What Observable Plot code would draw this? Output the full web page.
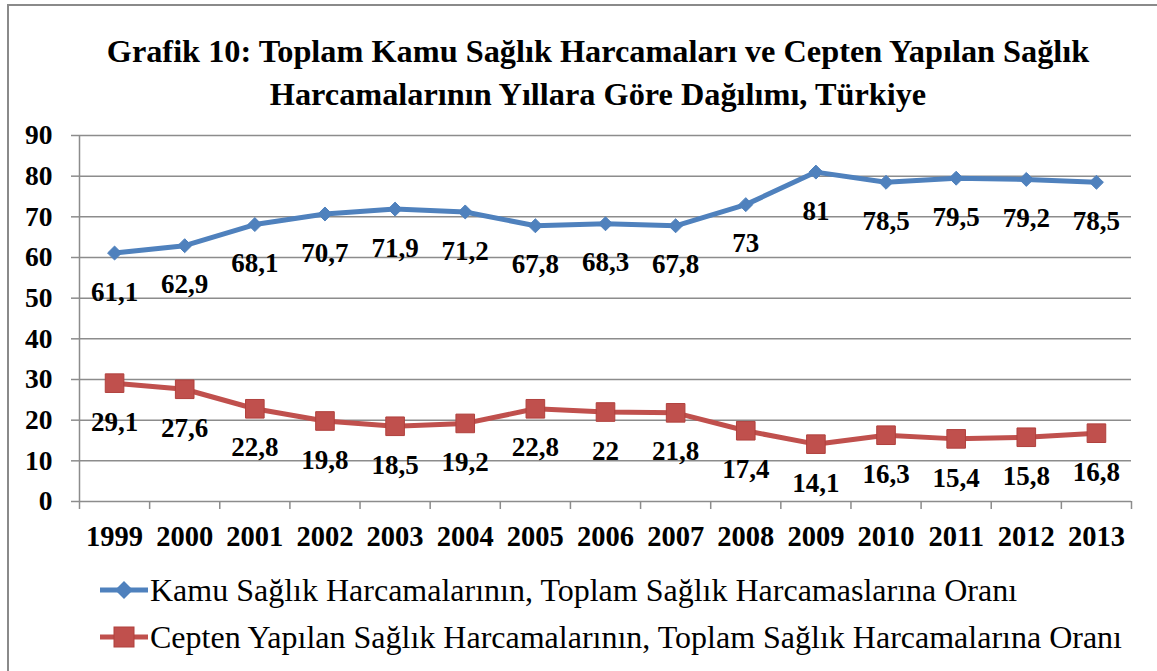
<!DOCTYPE html>
<html>
<head>
<meta charset="utf-8">
<script src="https://cdn.jsdelivr.net/npm/d3@7"></script>
<script src="https://cdn.jsdelivr.net/npm/@observablehq/plot@0.6"></script>
<style>
  html, body { margin: 0; padding: 0; background: #fff; }
  #page { position: relative; width: 1157px; height: 671px; overflow: hidden; font-family: "Liberation Serif", "Times New Roman", serif; }
  #frame { position: absolute; left: 7px; top: 4px; width: 1200px; height: 700px; border-left: 2px solid #8a8a8a; border-top: 2px solid #8a8a8a; }
  #title { position: absolute; left: 40px; width: 1116px; top: 30px; text-align: center; font-weight: bold; font-size: 32.3px; line-height: 43px; color: #000; font-family: "Liberation Serif", "Times New Roman", serif; }
  #chart { position: absolute; left: 0; top: 115px; }
  .leg { position: absolute; left: 100px; height: 40px; display: flex; align-items: center; font-size: 32px; color: #000; white-space: nowrap; font-family: "Liberation Serif", "Times New Roman", serif; }
  .leg svg { margin-right: 2px; flex: none; }
</style>
</head>
<body>
<div id="page">
  <div id="frame"></div>
  <div id="title">Grafik 10: Toplam Kamu Sağlık Harcamaları ve Cepten Yapılan Sağlık<br>Harcamalarının Yıllara Göre Dağılımı, Türkiye</div>
  <div id="chart"></div>
  <div class="leg" id="leg1" style="top:570px"></div>
  <div class="leg" id="leg2" style="top:617px"></div>
</div>
<script>
const years = [1999, 2000, 2001, 2002, 2003, 2004, 2005, 2006, 2007, 2008, 2009, 2010, 2011, 2012, 2013];
const kamu = [61.1, 62.9, 68.1, 70.7, 71.9, 71.2, 67.8, 68.3, 67.8, 73, 81, 78.5, 79.5, 79.2, 78.5];
const cepten = [29.1, 27.6, 22.8, 19.8, 18.5, 19.2, 22.8, 22, 21.8, 17.4, 14.1, 16.3, 15.4, 15.8, 16.8];
const yTicks = [0, 10, 20, 30, 40, 50, 60, 70, 80, 90];
const seriesNames = [
  "Kamu Sağlık Harcamalarının, Toplam Sağlık Harcamaslarına Oranı",
  "Cepten Yapılan Sağlık Harcamalarının, Toplam Sağlık Harcamalarına Oranı"
];
const colors = ["#4F81BD", "#C0504D"];

const kamuData = years.map((y, i) => ({year: y, value: kamu[i]}));
const ceptenData = years.map((y, i) => ({year: y, value: cepten[i]}));
const boundaries = [years[0] - 0.5, ...years.map(y => y + 0.5)];
const fmt = v => String(v).replace(".", ",");
const gray = "#8c8c8c";
const font = "Liberation Serif, Times New Roman, serif";

const chart = Plot.plot({
  width: 1157,
  height: 440,
  marginTop: 20,
  marginBottom: 54,
  marginLeft: 79,
  marginRight: 26,
  style: {fontFamily: font, color: "#000", background: "transparent", overflow: "visible"},
  x: {type: "linear", domain: [years[0] - 0.5, years[years.length - 1] + 0.5]},
  y: {domain: [0, 90]},
  marks: [
    Plot.ruleY(yTicks, {stroke: gray, strokeWidth: 1.5}),
    Plot.axisY({ticks: yTicks, tickSize: 8, tickPadding: 19, stroke: gray, strokeWidth: 1.5, strokeOpacity: 1, fontSize: 27.5, fontWeight: "bold", label: null, fill: "#000"}),
    Plot.ruleX([boundaries[0]], {stroke: gray, strokeWidth: 1.5}),
    Plot.axisX({ticks: boundaries, tickSize: 8, tickFormat: () => "", stroke: gray, strokeWidth: 1.5, strokeOpacity: 1, label: null}),
    Plot.axisX({ticks: years, tickSize: 0, tickPadding: 24, tickFormat: d => String(d), fontSize: 28.5, fontWeight: "bold", label: null, fill: "#000"}),
    Plot.lineY(kamuData, {x: "year", y: "value", stroke: colors[0], strokeWidth: 5}),
    Plot.dot(kamuData, {x: "year", y: "value", symbol: "diamond2", r: 6.3, fill: colors[0], stroke: colors[0], strokeWidth: 1}),
    Plot.text(kamuData, {x: "year", y: "value", text: d => fmt(d.value), dy: 39, fontSize: 27, fontWeight: "bold", fill: "#000"}),
    Plot.lineY(ceptenData, {x: "year", y: "value", stroke: colors[1], strokeWidth: 5}),
    Plot.dot(ceptenData, {x: "year", y: "value", symbol: "square", r: 10.5, fill: colors[1], stroke: "#b0403d", strokeWidth: 1}),
    Plot.text(ceptenData, {x: "year", y: "value", text: d => fmt(d.value), dy: 39, fontSize: 27, fontWeight: "bold", fill: "#000"})
  ]
});
document.getElementById("chart").appendChild(chart);

function swatch(color, kind) {
  const marker = kind === "diamond"
    ? `<path d="M24 12 L33 21 L24 30 L15 21 Z" fill="${color}"/>`
    : `<rect x="14" y="11" width="20" height="20" fill="${color}" stroke="#b0403d" stroke-width="1"/>`;
  return `<svg width="48" height="42" viewBox="0 0 48 42"><line x1="0" y1="21" x2="48" y2="21" stroke="${color}" stroke-width="5"/>${marker}</svg>`;
}
document.getElementById("leg1").innerHTML = swatch(colors[0], "diamond") + `<span>${seriesNames[0]}</span>`;
document.getElementById("leg2").innerHTML = swatch(colors[1], "square") + `<span>${seriesNames[1]}</span>`;
</script>
</body>
</html>
